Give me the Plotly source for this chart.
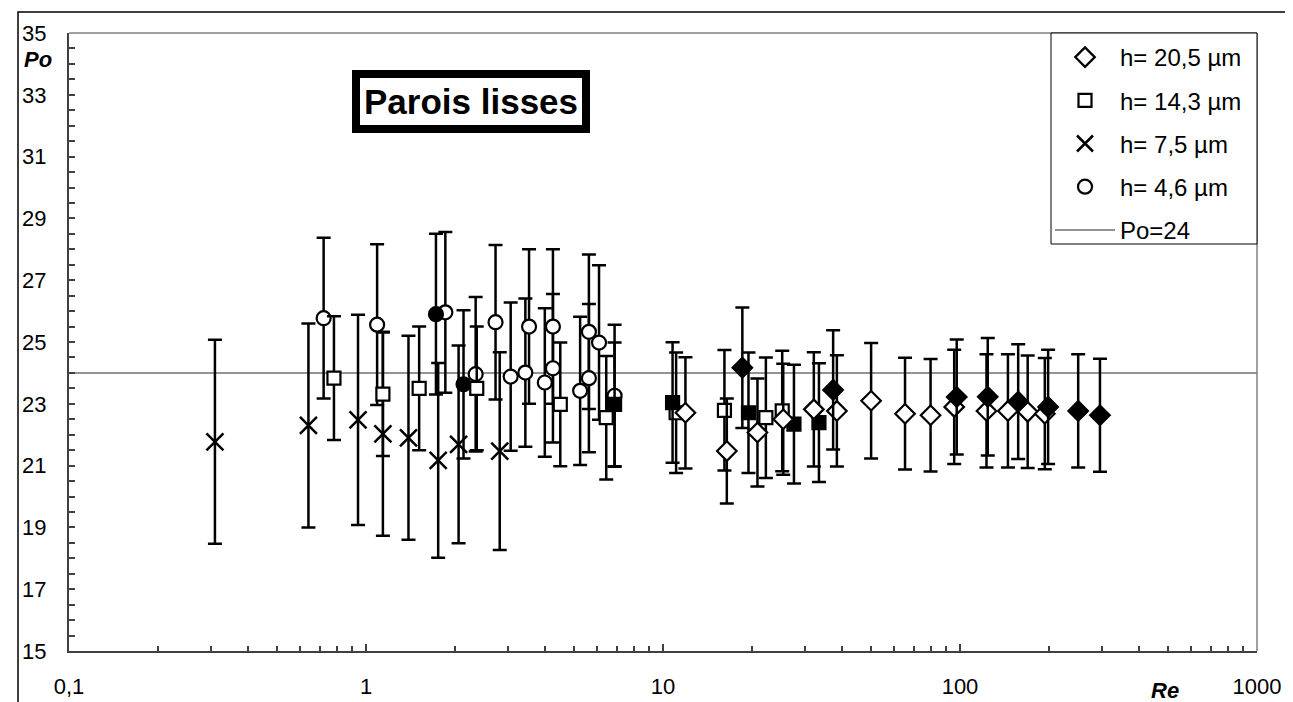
import plotly.graph_objects as go

# ---------------- data ----------------
# h = 20,5 µm (open diamonds)
d_open_re = [11.9, 16.4, 20.8, 25.4, 32.2, 38.5, 50.2, 65.3, 79.6, 95.6, 122.8, 145, 169, 193]
d_open_po = [22.71, 21.47, 22.07, 22.5, 22.82, 22.77, 23.1, 22.68, 22.63, 22.9, 22.77, 22.77, 22.74, 22.68]
d_open_err = [1.8, 1.7, 1.75, 1.8, 1.85, 1.8, 1.87, 1.81, 1.82, 1.85, 1.83, 1.83, 1.82, 1.8]
# h = 20,5 µm (filled diamonds)
d_fill_re = [18.5, 37.4, 97.5, 124, 157, 198, 250, 296]
d_fill_po = [24.17, 23.45, 23.22, 23.23, 23.07, 22.9, 22.77, 22.63]
d_fill_err = [1.95, 1.93, 1.86, 1.9, 1.86, 1.85, 1.83, 1.83]
# h = 14,3 µm (open squares)
s_open_re = [0.78, 1.14, 1.51, 2.36, 4.51, 6.44, 11.07, 16.1, 22.2, 25.2]
s_open_po = [23.83, 23.31, 23.5, 23.5, 22.98, 22.55, 22.71, 22.79, 22.55, 22.77]
s_open_err = [2.0, 2.0, 2.0, 2.0, 2.0, 2.0, 1.95, 1.95, 1.95, 1.95]
# h = 14,3 µm (filled squares)
s_fill_re = [6.87, 10.77, 19.4, 27.6, 33.5]
s_fill_po = [22.98, 23.04, 22.71, 22.34, 22.39]
s_fill_err = [2.0, 1.95, 1.95, 1.92, 1.92]
# h = 7,5 µm (crosses)
x_re = [0.31, 0.64, 0.94, 1.14, 1.39, 1.75, 2.05, 2.82]
x_po = [21.77, 22.30, 22.48, 22.03, 21.90, 21.17, 21.69, 21.47]
x_err = [3.3, 3.3, 3.4, 3.3, 3.3, 3.15, 3.2, 3.2]
# h = 4,6 µm (open circles)
c_open_re = [0.72, 1.09, 1.85, 2.34, 2.73, 3.07, 3.44, 3.54, 4.0, 4.26, 4.26, 5.26, 5.63, 5.63, 6.09, 6.87]
c_open_po = [25.77, 25.56, 25.96, 23.96, 25.64, 23.88, 24.01, 25.5, 23.69, 25.5, 24.15, 23.42, 25.33, 23.83, 24.98, 23.26]
c_open_err = [2.6, 2.6, 2.6, 2.5, 2.5, 2.4, 2.4, 2.5, 2.4, 2.5, 2.4, 2.4, 2.5, 2.4, 2.5, 2.3]
# h = 4,6 µm (filled circles)
c_fill_re = [1.72, 2.13]
c_fill_po = [25.9, 23.63]
c_fill_err = [2.6, 2.4]
# reference line
po_ref = 24
re_range = [0.1, 1000]

x_tickvals = [0.1, 1, 10, 100, 1000]
x_ticktext = ["0,1", "1", "10", "100", "1000"]
y_tickvals = [15, 17, 19, 21, 23, 25, 27, 29, 31, 33, 35]

# ---------------- layout geometry (px) ----------------
W, H = 1293, 702
L, R, T, B = 61, 1249, 25, 643


def px_x(p):
    return (p - L) / (R - L)


def px_y(p):
    return (B - p) / (B - T)


fig = go.Figure()

# Po=24 line
fig.add_trace(go.Scatter(x=re_range, y=[po_ref, po_ref], mode="lines",
                         line=dict(color="#707070", width=1.5), name="Po=24",
                         legendgroup="e", legendrank=5))


def err(e):
    return dict(type="data", array=e, visible=True, color="black", thickness=2.5, width=7)


def add(xs, ys, es, symbol, fill, name, show, grp, rank, size, lw=2.2):
    fig.add_trace(go.Scatter(
        x=xs, y=ys, mode="markers", name=name, showlegend=show, legendgroup=grp,
        legendrank=rank, error_y=err(es),
        marker=dict(symbol=symbol, size=size, color=fill,
                    line=dict(color="black", width=lw))))


add(x_re, x_po, x_err, "x-thin", "black", "h= 7,5 µm", True, "c", 3, 17, 2.5)
add(c_open_re, c_open_po, c_open_err, "circle", "white", "h= 4,6 µm", True, "d", 4, 14)
add(c_fill_re, c_fill_po, c_fill_err, "circle", "black", "h= 4,6 µm", False, "d", 4, 14)
add(s_open_re, s_open_po, s_open_err, "square", "white", "h= 14,3 µm", True, "b", 2, 13)
add(s_fill_re, s_fill_po, s_fill_err, "square", "black", "h= 14,3 µm", False, "b", 2, 13)
add(d_open_re, d_open_po, d_open_err, "diamond", "white", "h= 20,5 µm", True, "a", 1, 15)
add(d_fill_re, d_fill_po, d_fill_err, "diamond", "black", "h= 20,5 µm", False, "a", 1, 15)

font_family = "Arial, Liberation Sans, sans-serif"

fig.update_xaxes(type="log", range=[-1, 3], tickvals=x_tickvals, ticktext=x_ticktext,
                 ticks="inside", ticklen=7, tickwidth=1.5, tickcolor="#404040",
                 showline=True, linecolor="#404040", linewidth=2,
                 showgrid=False, zeroline=False, ticklabelstandoff=15,
                 tickfont=dict(family=font_family, size=22, color="black"),
                 minor=dict(ticks="inside", ticklen=5, tickwidth=1.5, tickcolor="#404040",
                            dtick="D1", showgrid=False))
fig.update_yaxes(range=[15, 35], tickvals=y_tickvals,
                 ticks="inside", ticklen=6, tickwidth=1.5, tickcolor="#404040",
                 showline=True, linecolor="#404040", linewidth=2,
                 showgrid=False, zeroline=False, ticklabelstandoff=16,
                 tickfont=dict(family=font_family, size=22, color="black"),
                 minor=dict(ticks="inside", ticklen=6, tickwidth=1.5, tickcolor="#404040",
                            dtick=0.5, showgrid=False))

shapes = [
    # outer chart frame
    dict(type="rect", xref="paper", yref="paper", x0=px_x(10), x1=px_x(1280),
         y0=px_y(720), y1=px_y(4), line=dict(color="black", width=1.5), layer="below"),
    # plot top and right border
    dict(type="line", xref="paper", yref="paper", x0=0, x1=1, y0=1, y1=1,
         line=dict(color="#808080", width=1.5)),
    dict(type="line", xref="paper", yref="paper", x0=1, x1=1, y0=0, y1=1,
         line=dict(color="#808080", width=1.5)),
    # legend box
    dict(type="rect", xref="paper", yref="paper", x0=px_x(1043), x1=1,
         y0=px_y(236), y1=1, line=dict(color="black", width=1), fillcolor="white",
         layer="above"),
]

annotations = [
    dict(text="<b>Parois lisses</b>", xref="paper", yref="paper", x=px_x(463), y=px_y(93),
         xanchor="center", yanchor="middle",
         showarrow=False, font=dict(family=font_family, size=35, color="black"),
         bordercolor="black", borderwidth=8, borderpad=4, bgcolor="white"),
    dict(text="<b><i>Po</i></b>", xref="paper", yref="y", x=px_x(30), y=34.15,
         xanchor="center", yanchor="middle",
         showarrow=False, font=dict(family=font_family, size=22, color="black")),
    dict(text="<b><i>Re</i></b>", xref="paper", yref="paper", x=px_x(1157), y=px_y(682),
         xanchor="center", yanchor="middle",
         showarrow=False, font=dict(family=font_family, size=22, color="black")),
]

fig.update_layout(
    width=W, height=H, plot_bgcolor="white", paper_bgcolor="white",
    margin=dict(l=L, r=W - R, t=T, b=H - B),
    shapes=shapes, annotations=annotations,
    legend=dict(x=px_x(1042), xanchor="left", y=px_y(27), yanchor="top",
                bgcolor="rgba(0,0,0,0)", borderwidth=0, tracegroupgap=9,
                font=dict(family=font_family, size=24, color="black"),
                itemwidth=60),
    showlegend=True,
)

fig.write_html("out.html")
